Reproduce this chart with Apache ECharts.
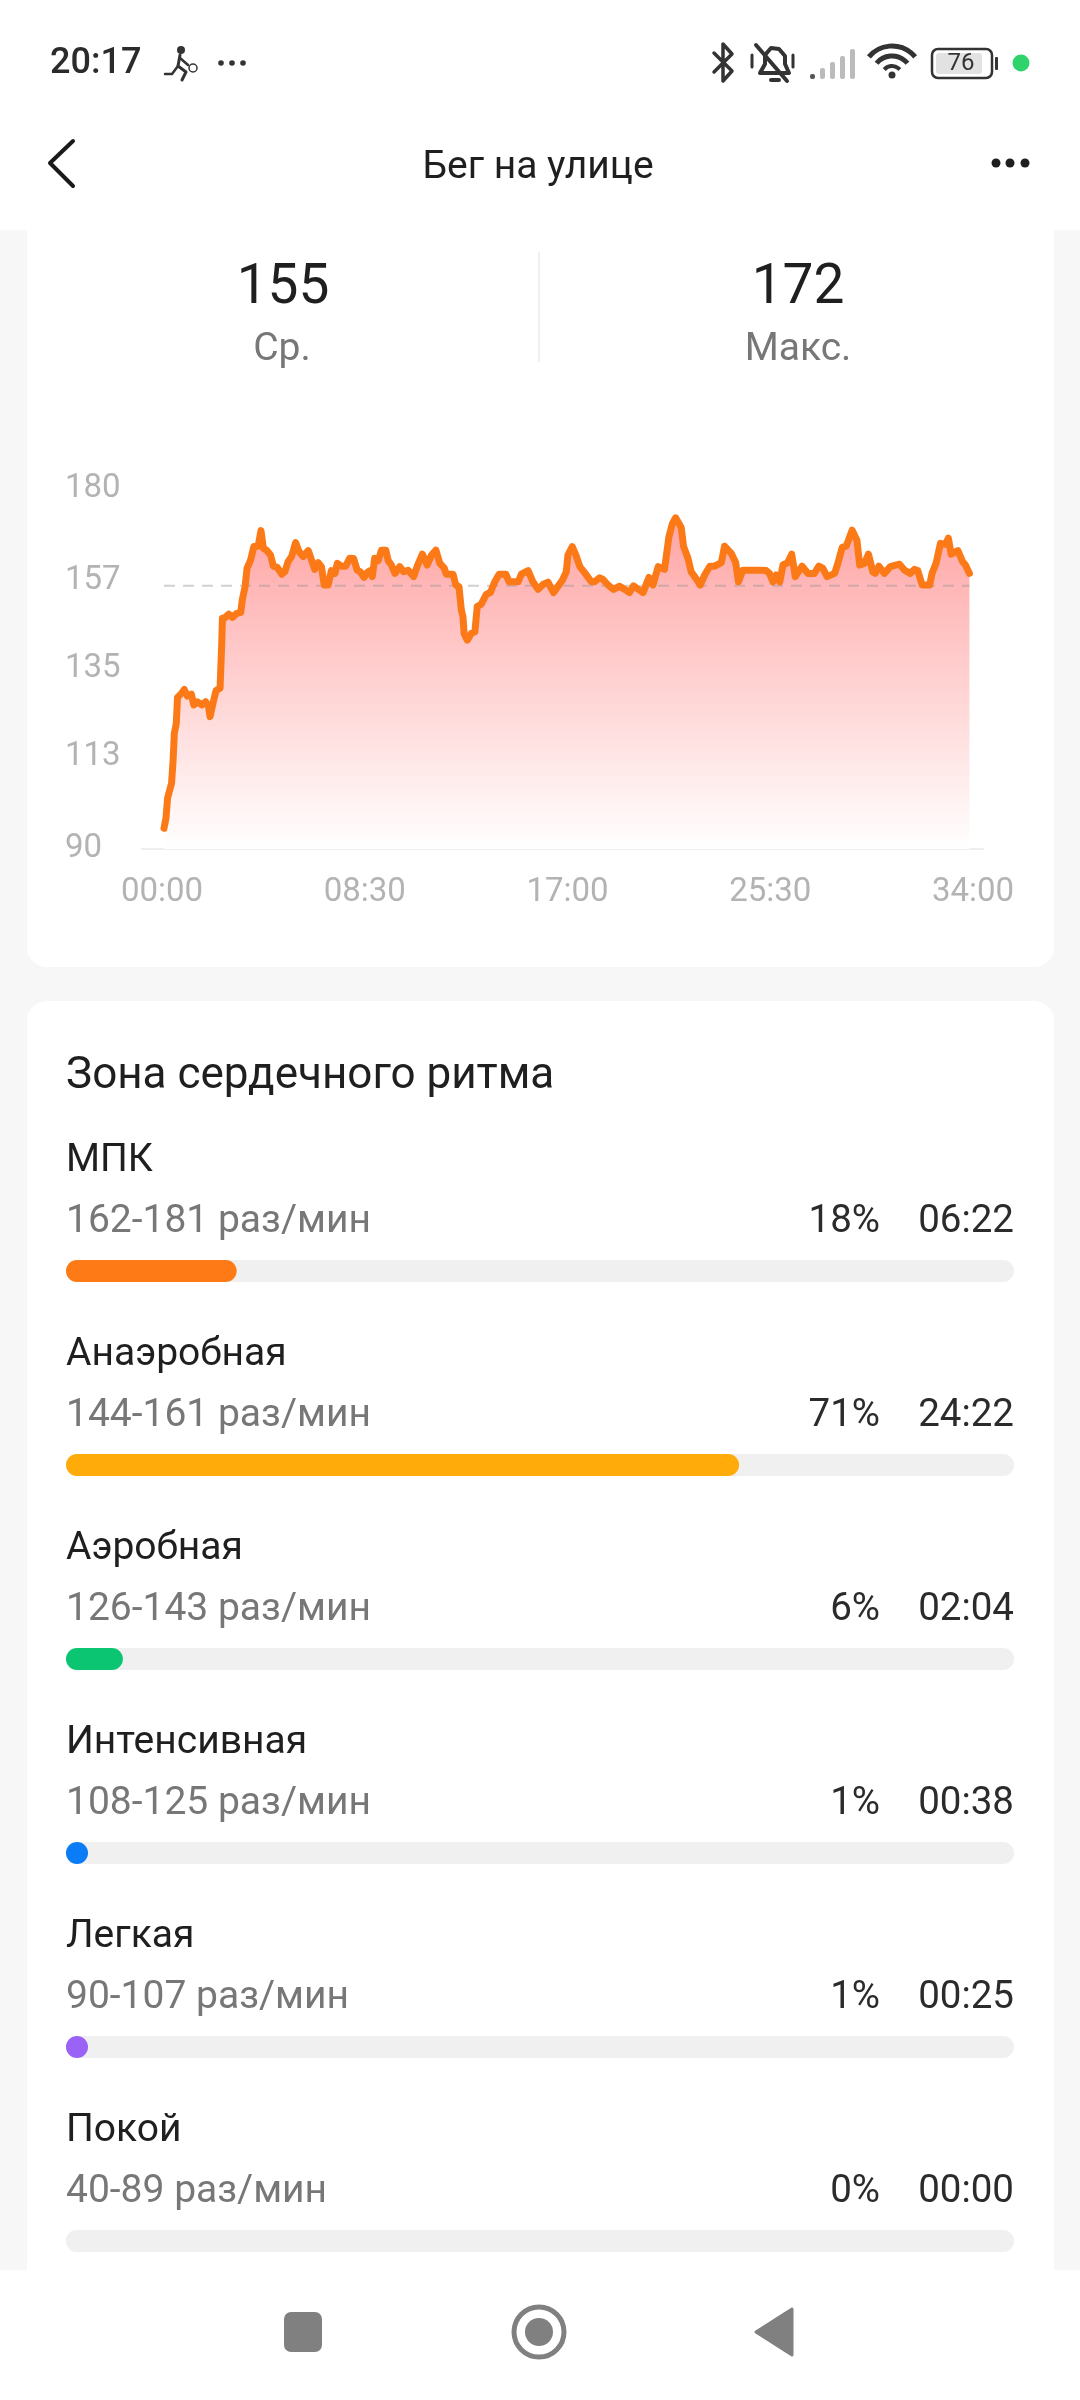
<!DOCTYPE html>
<html><head><meta charset="utf-8">
<style>html,body{margin:0;padding:0;background:#f7f7f7}#c{width:1080px;height:2400px}</style>
<script src="https://cdn.jsdelivr.net/npm/echarts@6/dist/echarts.min.js"></script>
</head><body><div id="c"></div>
<script>
const timeSec = [5,10,14,24,28,31,36,39,49,56,64,74,80,89,100,110,117,121,129,136,146,150,152,158,168,177,188,198,202,209,214,223,231,242,249,255,263,273,280,290,301,309,317,326,336,345,355,368,376,384,393,401,408,418,426,435,441,451,462,472,482,491,499,508,518,524,529,535,544,552,563,569,577,586,598,608,619,633,642,655,667,678,689,699,710,715,732,739,747,753,757,760,768,778,787,793,803,816,826,837,848,865,873,896,904,921,933,946,959,971,985,1007,1017,1021,1032,1041,1051,1063,1080,1088,1101,1109,1122,1136,1151,1164,1176,1186,1197,1210,1225,1235,1248,1264,1275,1284,1292,1306,1312,1323,1331,1340,1354,1365,1378,1390,1407,1415,1432,1443,1450,1461,1507,1520,1528,1537,1545,1554,1562,1574,1584,1593,1610,1625,1641,1652,1662,1673,1692,1700,1711,1721,1736,1748,1755,1767,1777,1788,1794,1803,1817,1832,1855,1868,1882,1893,1901,1912,1931,1937,1947,1958,1971,1978,1985,2002,2014,2021,2031];
const heartRate = [95.2,97.7,102.7,106.4,112.3,118.9,121.4,127.9,128.9,129.9,128.2,128.7,126,126.8,126,126.8,125.6,123.1,126.8,129.6,130.2,140.6,147.7,147.8,148.7,147.9,148.9,149.1,152.3,155.6,160.2,162.3,165.6,165.7,169.6,165.2,164.7,163.5,160.7,160.4,158.7,159.3,161.8,163.1,166.6,164.3,163.1,164.6,162.3,159.9,161.6,160.6,156,156,159.6,158.9,161.4,160.7,160.7,162.7,162.6,159.7,159.3,157.9,159.3,159.6,158.1,162.7,162.1,164.7,164.7,162.1,161,158.9,160.6,159.3,159.7,158.1,160.7,163.7,161,163.5,164.7,161.4,160.2,158.7,158.7,156,155.6,149.7,148.1,143.9,142.2,143.9,144.3,150.6,151.2,153.7,154.1,156.8,158.7,158.7,156.8,156.8,158.7,159.6,156.8,154.9,156.2,156.7,154.1,157.2,159.3,163.5,165.6,163.5,160.6,159.1,156.8,156.8,157.8,157.4,156,154.9,155.7,154.9,154.1,155.8,155,154.1,157.9,156,160.6,159.9,168,171.4,172.8,170.4,165.6,162.7,159.3,158.1,156,158.5,160.7,160.7,161.6,165.7,163.9,161.6,156.8,159.7,159.7,159.6,158.9,156.8,158.5,156.8,161,161.6,163.7,158.1,160.7,158.9,158.9,160.7,160.2,158.1,158.9,161.4,165.4,165.7,169.7,167.2,161,161.4,163.7,159.3,158.9,160.7,158.9,160.6,161.2,159.7,158.9,159.9,159.6,156,156,158.9,161.4,166.4,166.2,167.7,163.7,164.6,161.8,161,158.9];
const averageLine = 155.8;
const yTickValues = [90,113,135,157,180];
const xTickLabels = ['00:00','08:30','17:00','25:30','34:00'];
const zoneNames = ['МПК','Анаэробная','Аэробная','Интенсивная','Легкая','Покой'];
const zoneRanges = ['162-181 раз/мин','144-161 раз/мин','126-143 раз/мин','108-125 раз/мин','90-107 раз/мин','40-89 раз/мин'];
const zonePercents = [18,71,6,1,1,0];
const zoneTimes = ['06:22','24:22','02:04','00:38','00:25','00:00'];
const zoneColors = ['#FD7A16','#FFAB0A','#0BC573','#0A7CF5','#9A63F5','#F0F0F0'];

const FONT = 'Roboto, "Noto Sans", sans-serif';
const T = (x,y,s,size,fill,align,weight)=>({type:'text',z:20,style:{x,y,text:s,fontSize:size,fill,align:align||'left',verticalAlign:'middle',fontFamily:FONT,fontWeight:weight||400}});
const R = (x,y,w,h,fill,r)=>({type:'rect',z:0,shape:{x,y,width:w,height:h,r:r||0},style:{fill}});
const P = (pts,stroke,lw,fill)=>({type:'polyline',z:20,shape:{points:pts},style:{stroke,lineWidth:lw,fill:fill||null,lineJoin:'round',lineCap:'round'}});
const C = (cx,cy,r,fill,stroke,lw)=>({type:'circle',z:20,shape:{cx,cy,r},style:{fill:fill||null,stroke:stroke||null,lineWidth:lw||0}});

const g = [];
// cards
g.push(R(27,200,1027,767,'#ffffff',[0,0,20,20]));
g.push(R(27,1001,1027,1400,'#ffffff',[20,20,0,0]));
// header
g.push(R(0,0,1080,230,'#ffffff'));
g.push(T(50,64,'20:17',36,'#2b2b2b','left',500));
// runner icon
g.push(C(181,50,4,'#333'));
g.push(P([[180,55],[178,66],[186,72],[182,80]],'#333',3));
g.push(P([[178,66],[172,74],[165,74]],'#333',2.5));
g.push(P([[180,58],[188,65]],'#333',2.5));
g.push(C(193,68,4,null,'#333',1.5));
// status dots
[221,232,243].forEach(x=>g.push(C(x,63,2.8,'#333')));
// bluetooth
g.push(P([[714,53],[732,71],[723,81],[723,44],[732,54],[714,72]],'#333',3.5));
// bell
g.push(P([[760,73],[765,64],[765,55],[771,48],[779,49],[785,56],[785,64],[789,73],[760,73]],'#333',4));
g.push(P([[756,45],[787,81]],'#333',4));
g.push(P([[752,55],[752,67]],'#333',3));
g.push(P([[793,55],[793,67]],'#333',3));
g.push(R(769,78,12,4,'#333',2)); g[g.length-1].z=20;
// signal
[[810,74,5,'#555'],[820,68,5,'#bbb'],[830,62,5,'#bbb'],[840,56,5,'#bbb'],[850,49,5,'#bbb']].forEach(b=>{const r=R(b[0],b[1],b[2],79-b[1],b[3],2);r.z=20;g.push(r);});
// wifi
[[28,5],[18,5],[8,4]].forEach(a=>g.push({type:'arc',z:20,shape:{cx:892,cy:76,r:a[0]+2,startAngle:-Math.PI*0.78,endAngle:-Math.PI*0.22},style:{stroke:'#333',lineWidth:a[1],fill:null}}));
g.push(C(892,75,3.5,'#333'));
// battery
const bOut=R(932,49,60,29,'#ffffff',6); bOut.z=20; bOut.style.stroke='#333'; bOut.style.lineWidth=2.5; g.push(bOut);
const bIn=R(936,53,46,21,'#e2e2e2',3); bIn.z=20; g.push(bIn);
const bCap=R(995,57,3,13,'#333',1); bCap.z=20; g.push(bCap);
g.push(T(961,64,'76',24,'#333','center'));
g.push(C(1021,63,8.5,'#2FD36B'));
// title row
g.push(P([[73,141],[50,163],[73,186]],'#1a1a1a',4));
g.push(T(538,168,'Бег на улице',39,'#1f1f1f','center'));
[996,1010,1025].forEach(x=>g.push(C(x,163,4.5,'#1f1f1f')));
// stats
g.push(T(283,289,'155',55,'#1f1f1f','center'));
g.push(T(798,289,'172',55,'#1f1f1f','center'));
g.push(T(282,350,'Ср.',39,'#777777','center'));
g.push(T(798,350,'Макс.',39,'#777777','center'));
g.push(R(538,252,2,110,'#f0f0f0'));
// axis baseline
g.push(R(141,848,843,2,'#efefef'));
// zones text
g.push(T(66,1077,'Зона сердечного ритма',44,'#1f1f1f'));
zoneNames.forEach((n,i)=>{
  const y0 = 194*i;
  g.push(T(66,1161+y0,n,39,'#1f1f1f'));
  g.push(T(66,1222+y0,zoneRanges[i],39,'#777777'));
  g.push(T(880,1222+y0,zonePercents[i]+'%',38.5,'#2b2b2b','right'));
  g.push(T(1014,1222+y0,zoneTimes[i],38.5,'#2b2b2b','right'));
});
// bottom nav
const nav=R(0,2270,1080,130,'#ffffff'); nav.z=15; g.push(nav);
const sq=R(284,2312,38,40,'#808080',7); sq.z=20; g.push(sq);
g.push(C(539,2332,25,null,'#808080',5));
g.push(C(539,2332,14,'#808080'));
g.push({type:'polygon',z:20,shape:{points:[[792,2309],[792,2355],[756,2332]]},style:{fill:'#808080',stroke:'#808080',lineWidth:3,lineJoin:'round'}});

const hrData = timeSec.map((t,i)=>[t,heartRate[i]]);
const chart = echarts.init(document.getElementById('c'),null,{renderer:'canvas',width:1080,height:2400});
chart.setOption({
  animation:false,
  backgroundColor:'#f7f7f7',
  graphic:{elements:g},
  grid:[
    {left:162,width:811,top:489,height:360},
    {left:66,width:948,top:1174,height:1164}
  ],
  xAxis:[
    {type:'value',gridIndex:0,min:0,max:2040,interval:510,axisLine:{show:false},axisTick:{show:false},splitLine:{show:false},
     axisLabel:{color:'#b3b3b3',fontSize:33,fontFamily:FONT,margin:27,formatter:(v)=>xTickLabels[Math.round(v/510)]}},
    {type:'value',gridIndex:1,min:0,max:100,show:false}
  ],
  yAxis:[
    {type:'value',gridIndex:0,min:90,max:180,axisLine:{show:false},axisTick:{show:false},splitLine:{show:false},
     axisLabel:{color:'#b3b3b3',fontSize:33,fontFamily:FONT,align:'left',margin:97,customValues:yTickValues}},
    {type:'category',gridIndex:1,inverse:true,data:zoneNames,show:false}
  ],
  series:[
    {type:'line',name:'fill',xAxisIndex:0,yAxisIndex:0,data:hrData,showSymbol:false,z:2,
     lineStyle:{width:0,opacity:0},
     areaStyle:{origin:'start',opacity:1,color:{type:'linear',x:0,y:0,x2:0,y2:1,colorStops:[{offset:0,color:'#FFA4A4'},{offset:1,color:'#FFFFFF'}]}}},
    {type:'line',name:'average',xAxisIndex:0,yAxisIndex:0,showSymbol:false,z:3,
     data:[[timeSec[0],averageLine],[timeSec[timeSec.length-1],averageLine]],
     lineStyle:{color:'rgba(150,150,150,0.45)',type:[11,8],width:2}},
    {type:'line',name:'heart rate',xAxisIndex:0,yAxisIndex:0,data:hrData,showSymbol:false,z:4,
     lineStyle:{color:'#FB7A17',width:7,join:'round',cap:'round'}},
    {type:'bar',xAxisIndex:1,yAxisIndex:1,barWidth:22,z:3,showBackground:true,
     backgroundStyle:{color:'#F0F0F0',borderRadius:11},
     barMinHeight:22,
     data:zonePercents.map((v,i)=>({value:v,itemStyle:{color:zoneColors[i],borderRadius:11}}))}
  ]
});
</script></body></html>
